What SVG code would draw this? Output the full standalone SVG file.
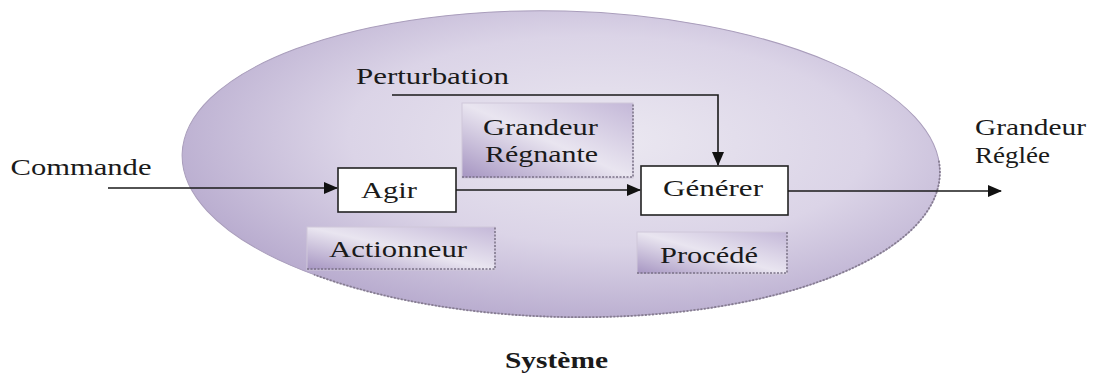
<svg xmlns="http://www.w3.org/2000/svg" width="1094" height="374" viewBox="0 0 1094 374">
  <defs>
    <radialGradient id="ellGrad" cx="0.56" cy="0.42" r="0.62">
      <stop offset="0" stop-color="#ebe8f1"/>
      <stop offset="0.55" stop-color="#dbd4e7"/>
      <stop offset="1" stop-color="#b6a9cd"/>
    </radialGradient>
    <linearGradient id="boxGrad" x1="0" y1="1" x2="1" y2="0">
      <stop offset="0" stop-color="#a594c1"/>
      <stop offset="0.5" stop-color="#e9e5f0"/>
      <stop offset="1" stop-color="#c4b8d8"/>
    </linearGradient>
    <marker id="arrow" markerUnits="userSpaceOnUse" markerWidth="14" markerHeight="12" refX="13" refY="6" orient="auto">
      <path d="M0,0 L14,6 L0,12 Z" fill="#111"/>
    </marker>
    <style>
      .lbl { font-family: "Liberation Serif", "Times New Roman", serif; font-size: 23px; fill: #1a1a1a; }
      .bold { font-weight: bold; }
      .block { fill: #ffffff; stroke: #222; stroke-width: 1.6; }
      .tag { fill: url(#boxGrad); stroke: #cfc7da; stroke-width: 1; }
      .tagShadow { stroke: #7a7186; stroke-width: 1.5; stroke-dasharray: 2 1.5; fill: none; }
      .conn { fill: none; stroke: #1a1a1a; stroke-width: 1.6; }
    </style>
  </defs>

  <g id="systeme">
    <g transform="rotate(1.5 561 164)">
      <ellipse cx="561" cy="164" rx="379" ry="153" fill="url(#ellGrad)" stroke="#a99dbb" stroke-width="1"/>
      <path d="M938.6,150.7 A379,153 0 0 1 317,281" fill="none" stroke="#857c90" stroke-width="1.8" stroke-dasharray="2 1.5"/>
    </g>
    <text class="lbl bold" x="505" y="368" textLength="103" lengthAdjust="spacingAndGlyphs">Système</text>
  </g>

  <g id="grandeur-regnante">
    <rect class="tag" x="462" y="103" width="171" height="75"/>
    <path class="tagShadow" d="M462,177 H633 V103"/>
    <text class="lbl" x="483" y="135" textLength="115" lengthAdjust="spacingAndGlyphs">Grandeur</text>
    <text class="lbl" x="485" y="162" textLength="113" lengthAdjust="spacingAndGlyphs">Régnante</text>
  </g>

  <g id="actionneur">
    <rect class="tag" x="307" y="227" width="188" height="43"/>
    <path class="tagShadow" d="M307,269 H495 V227"/>
    <text class="lbl" x="329" y="257" textLength="138" lengthAdjust="spacingAndGlyphs">Actionneur</text>
  </g>

  <g id="procede">
    <rect class="tag" x="637" y="232" width="150" height="42"/>
    <path class="tagShadow" d="M637,273 H787 V232"/>
    <text class="lbl" x="660" y="263" textLength="98" lengthAdjust="spacingAndGlyphs">Procédé</text>
  </g>

  <g id="agir">
    <rect class="block" x="338" y="168" width="118" height="44"/>
    <text class="lbl" x="361" y="198" textLength="56" lengthAdjust="spacingAndGlyphs">Agir</text>
  </g>

  <g id="generer">
    <rect class="block" x="641" y="166" width="147" height="49"/>
    <text class="lbl" x="663" y="196" textLength="100" lengthAdjust="spacingAndGlyphs">Générer</text>
  </g>

  <g id="commande">
    <text class="lbl" x="10.5" y="175" textLength="141" lengthAdjust="spacingAndGlyphs">Commande</text>
  </g>

  <g id="perturbation">
    <text class="lbl" x="356" y="84" textLength="153" lengthAdjust="spacingAndGlyphs">Perturbation</text>
  </g>

  <g id="grandeur-reglee">
    <text class="lbl" x="975" y="135" textLength="111" lengthAdjust="spacingAndGlyphs">Grandeur</text>
    <text class="lbl" x="975" y="163" textLength="75" lengthAdjust="spacingAndGlyphs">Réglée</text>
  </g>

  <g id="connectors">
    <path class="conn" d="M108,188 H337" marker-end="url(#arrow)"/>
    <path class="conn" d="M456,190 H640" marker-end="url(#arrow)"/>
    <path class="conn" d="M392,95 H718 V165" marker-end="url(#arrow)"/>
    <path class="conn" d="M788,191 H1001" marker-end="url(#arrow)"/>
  </g>
</svg>
